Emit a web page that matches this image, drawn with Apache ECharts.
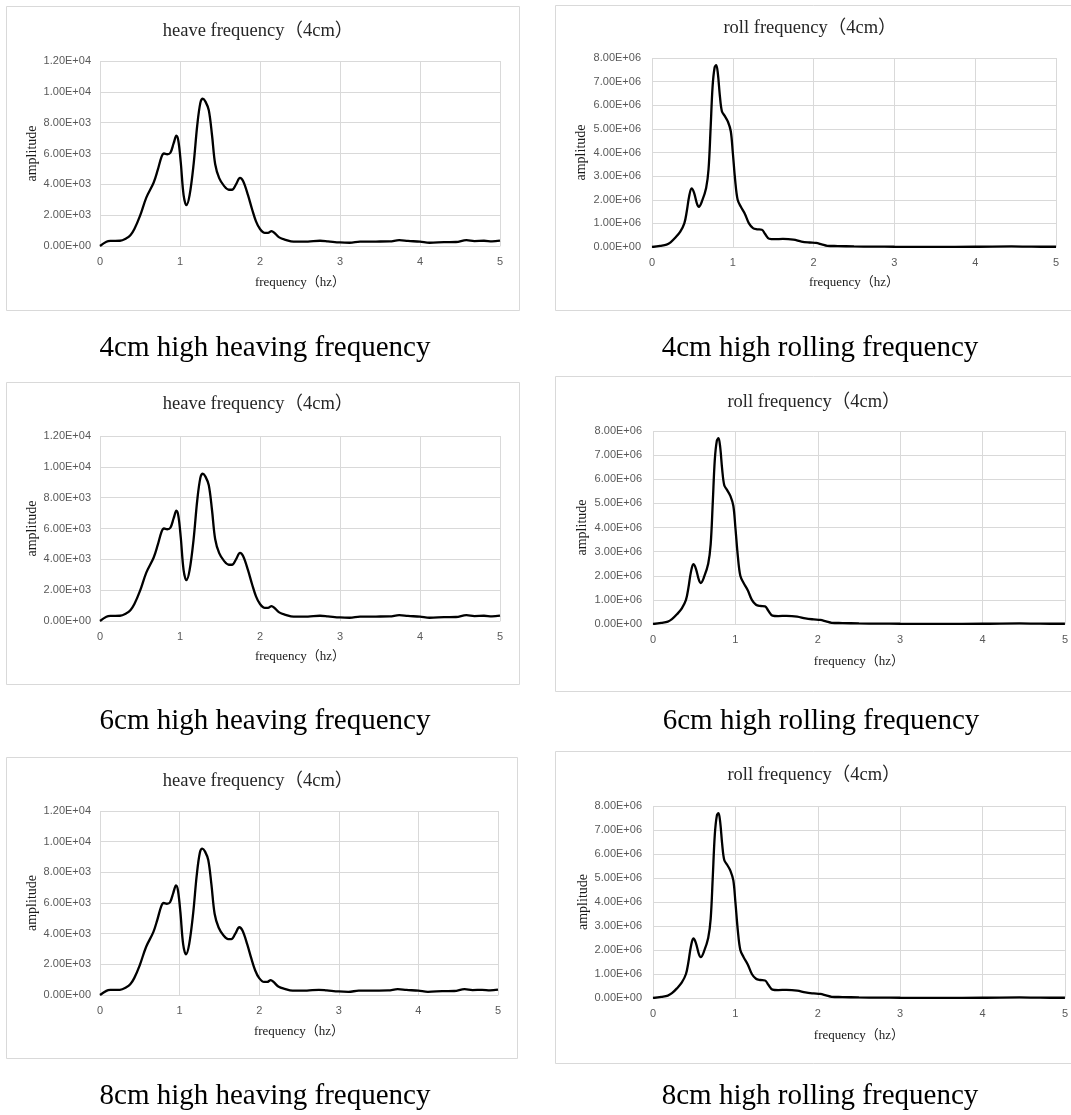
<!DOCTYPE html>
<html>
<head>
<meta charset="utf-8">
<title>heave / roll frequency</title>
<script src="https://cdn.jsdelivr.net/npm/echarts@6/dist/echarts.min.js"></script>
<style>
  html, body { margin: 0; padding: 0; background: #fff; }
  #chart { width: 1071px; height: 1115px; }
</style>
</head>
<body>
<div id="chart"></div>
<script>
// Heave spectrum: frequency (hz) and amplitude
const heaveFreq = [0, 0.08, 0.13, 0.25, 0.33, 0.38, 0.43, 0.5, 0.58, 0.67, 0.72, 0.77, 0.8, 0.84, 0.88, 0.92, 0.955, 0.98,
  1.01, 1.045, 1.08, 1.12, 1.17, 1.215, 1.255, 1.285, 1.32, 1.36, 1.4, 1.44, 1.49, 1.55, 1.61, 1.65, 1.7, 1.75, 1.79,
  1.85, 1.9, 1.95, 2.0, 2.06, 2.1, 2.145, 2.18, 2.24, 2.32, 2.42, 2.6, 2.75, 2.85, 3.0, 3.12, 3.25, 3.45, 3.62, 3.74,
  3.85, 4.0, 4.12, 4.3, 4.45, 4.58, 4.68, 4.8, 4.9, 5.0];
const heaveAmp = [0, 270, 330, 340, 500, 700, 1100, 1950, 3150, 4100, 4900, 5800, 6000, 5950, 6050, 6650, 7150, 6800,
  5400, 3300, 2650, 3300, 5300, 7800, 9300, 9550, 9350, 8800, 7200, 5300, 4400, 3900, 3650, 3650, 4000, 4420, 4200,
  3300, 2400, 1600, 1100, 850, 850, 970, 850, 560, 400, 280, 290, 340, 300, 230, 210, 280, 290, 300, 380,
  330, 280, 210, 250, 260, 380, 320, 340, 300, 350];

// Roll spectrum: frequency (hz) and amplitude
const rollFreq = [0, 0.1, 0.18, 0.23, 0.29, 0.35, 0.4, 0.43, 0.46, 0.49, 0.52, 0.555, 0.58, 0.62, 0.67, 0.7, 0.725, 0.75,
  0.775, 0.795, 0.815, 0.84, 0.865, 0.9, 0.94, 0.975, 1.0, 1.03, 1.06, 1.1, 1.15, 1.2, 1.25, 1.3, 1.36, 1.4, 1.45,
  1.52, 1.62, 1.75, 1.85, 1.95, 2.03, 2.1, 2.17, 2.3, 2.5, 2.75, 3.0, 3.5, 4.0, 4.45, 4.7, 5.0];
const rollAmp = [0, 50e3, 100e3, 200e3, 400e3, 650e3, 1000e3, 1500e3, 2150e3, 2480e3, 2300e3, 1850e3, 1700e3, 1950e3,
  2500e3, 3300e3, 5000e3, 6800e3, 7600e3, 7700e3, 7350e3, 6400e3, 5750e3, 5550e3, 5300e3, 4900e3, 4000e3, 2800e3,
  2000e3, 1700e3, 1400e3, 1000e3, 800e3, 750e3, 730e3, 550e3, 350e3, 330e3, 340e3, 310e3, 230e3, 190e3, 170e3,
  110e3, 50e3, 40e3, 25e3, 15e3, 10e3, 8e3, 10e3, 25e3, 12e3, 10e3];

// Axis ticks
const freqTicks = { min: 0, max: 5, interval: 1 };
const heaveTicks = { min: 0, max: 12000, interval: 2000 };
const rollTicks = { min: 0, max: 8000000, interval: 1000000 };

// Titles and captions
const heaveTitle = 'heave frequency（4cm）';
const rollTitle = 'roll frequency（4cm）';
const xName = 'frequency（hz）';
const yName = 'amplitude';
const captions = [
  '4cm high heaving frequency', '4cm high rolling frequency',
  '6cm high heaving frequency', '6cm high rolling frequency',
  '8cm high heaving frequency', '8cm high rolling frequency'
];

function pairs(xs, ys) { return xs.map((x, i) => [x, ys[i]]); }
const heaveData = pairs(heaveFreq, heaveAmp);
const rollData = pairs(rollFreq, rollAmp);

// Page layout of the six panels
const panels = [
  { kind: 'heave', box: [6, 6, 519, 310], plot: [100, 61, 500, 246], title: [258, 31], cap: [265, 348], xGap: 37, yGap: 68 },
  { kind: 'roll', box: [555, 5, 1080, 310], plot: [652, 58, 1056, 247], title: [810, 28], cap: [820, 348], xGap: 36, yGap: 71 },
  { kind: 'heave', box: [6, 382, 519, 684], plot: [100, 436, 500, 621], title: [258, 404], cap: [265, 721], xGap: 36, yGap: 68 },
  { kind: 'roll', box: [555, 376, 1080, 691], plot: [653, 431, 1067, 624], title: [814, 402], cap: [821, 721], xGap: 38, yGap: 71 },
  { kind: 'heave', box: [6, 757, 517, 1058], plot: [100, 811, 498, 995], title: [258, 781], cap: [265, 1096], xGap: 37, yGap: 68 },
  { kind: 'roll', box: [555, 751, 1080, 1063], plot: [653, 806, 1067, 998], title: [814, 775], cap: [820, 1096], xGap: 38, yGap: 70 }
];

const SERIF = '"Liberation Serif", "Times New Roman", "Noto Sans CJK SC", serif';
const SANS = '"Liberation Sans", Arial, sans-serif';
const GRID_COLOR = '#d9d9d9';
const LABEL_COLOR = '#595959';

function sci(v) {
  const s = Number(v).toExponential(2).toUpperCase();
  return s.replace(/E([+-])(\d)$/, 'E$10$2');
}

const grids = [], xAxes = [], yAxes = [], series = [], graphics = [];

panels.forEach((p, i) => {
  const [l, t, r, b] = p.plot;
  grids.push({ left: l, top: t, width: r - l, height: b - t, containLabel: false });
  xAxes.push({
    type: 'value', gridIndex: i, min: freqTicks.min, max: freqTicks.max, interval: freqTicks.interval,
    name: xName, nameLocation: 'middle', nameGap: p.xGap,
    nameTextStyle: { fontFamily: SERIF, fontSize: 13, color: '#1a1a1a', verticalAlign: 'middle', align: 'center' },
    axisLine: { show: true, lineStyle: { color: GRID_COLOR, width: 1 } },
    axisTick: { show: false },
    axisLabel: { color: LABEL_COLOR, fontFamily: SANS, fontSize: 11, margin: 10 },
    splitLine: { show: true, lineStyle: { color: GRID_COLOR, width: 1 } }
  });
  const ticks = p.kind === 'heave' ? heaveTicks : rollTicks;
  yAxes.push({
    type: 'value', gridIndex: i, min: ticks.min, max: ticks.max, interval: ticks.interval,
    name: yName, nameLocation: 'middle', nameGap: p.yGap, nameRotate: 90,
    nameTextStyle: { fontFamily: SERIF, fontSize: 14, color: '#1a1a1a', verticalAlign: 'middle', align: 'center' },
    axisLine: { show: false },
    axisTick: { show: false },
    axisLabel: { color: LABEL_COLOR, fontFamily: SANS, fontSize: 11, margin: p.kind === 'heave' ? 9 : 11, formatter: sci },
    splitLine: { show: true, lineStyle: { color: GRID_COLOR, width: 1 } }
  });
  series.push({
    type: 'line', xAxisIndex: i, yAxisIndex: i,
    data: p.kind === 'heave' ? heaveData : rollData,
    smooth: 0.35, showSymbol: false, symbol: 'none',
    lineStyle: { color: '#000', width: 2.3 },
    animation: false
  });
  const [bx0, by0, bx1, by1] = p.box;
  graphics.push({
    type: 'rect', z: -10, silent: true,
    shape: { x: bx0 + 0.5, y: by0 + 0.5, width: bx1 - bx0, height: by1 - by0 },
    style: { fill: '#fff', stroke: GRID_COLOR, lineWidth: 1 }
  });
  graphics.push({
    type: 'text', silent: true, x: p.title[0], y: p.title[1],
    style: {
      text: p.kind === 'heave' ? heaveTitle : rollTitle,
      fontFamily: SERIF, fontSize: 18.5, fill: '#262626', align: 'center', verticalAlign: 'middle'
    }
  });
  graphics.push({
    type: 'text', silent: true, x: p.cap[0], y: p.cap[1],
    style: {
      text: captions[i],
      fontFamily: SERIF, fontSize: 29, fill: '#000', align: 'center', verticalAlign: 'middle'
    }
  });
});

const chart = echarts.init(document.getElementById('chart'), null, { renderer: 'canvas' });
chart.setOption({
  backgroundColor: '#fff',
  animation: false,
  grid: grids,
  xAxis: xAxes,
  yAxis: yAxes,
  series: series,
  graphic: graphics
});
</script>
</body>
</html>
